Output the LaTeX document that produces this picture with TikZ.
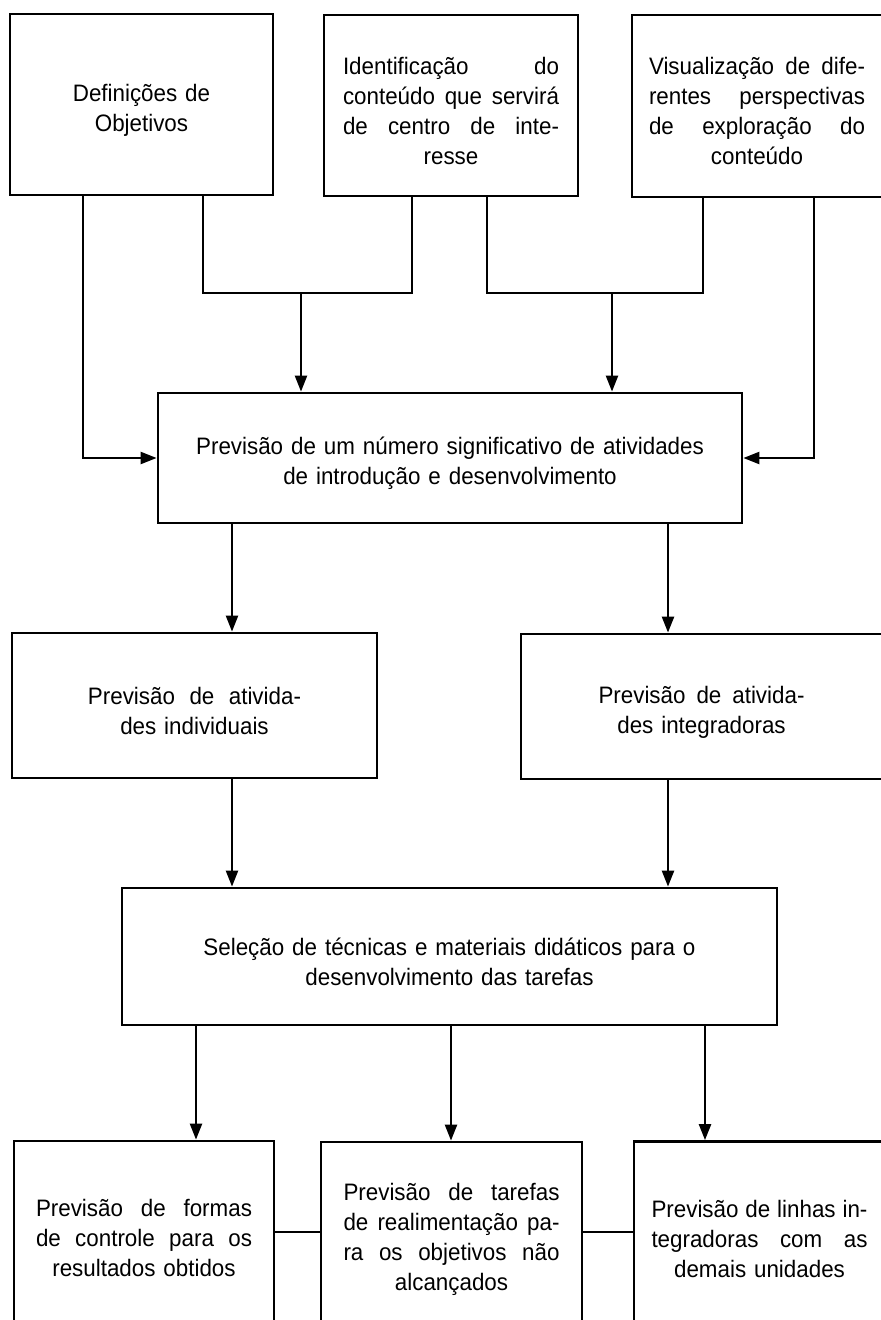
\documentclass[tikz,border=0pt]{standalone}
\usepackage{fontspec}
\setmainfont{Liberation Sans}[FakeStretch=0.94]
\usetikzlibrary{positioning,arrows.meta}
\newcommand{\jline}[2][108pt]{\leavevmode\hbox to #1{#2}}
\tikzset{
  etapa/.style={draw, line width=1.4pt, inner sep=0pt, align=center,
    font=\fontsize{11.9pt}{15pt}\selectfont,
    execute at begin node={\rule{0pt}{14pt}}},
  seta/.style={line width=1.2pt, -{Triangle[length=8pt,width=6pt]}},
  liga/.style={line width=1.2pt}
}
\begin{document}
\begin{tikzpicture}[x=0.5pt,y=-0.5pt]
\useasboundingbox (0,0) rectangle (880,1320);

\node[etapa, minimum width=131.5pt, minimum height=90.5pt, text width=120pt] (obj) at (141.5,104.5) {Definições de\\Objetivos};
\node[etapa, minimum width=127pt, minimum height=90.5pt, text width=108pt] (cont) at (451,105.5)
  {\jline{Identificação\hfill do}\\\jline{conteúdo\hfill que\hfill servirá}\\\jline{de\hfill centro\hfill de\hfill inte-}\\resse};
\node[etapa, minimum width=125pt, minimum height=91pt, text width=108pt] (visu) at (757,106)
  {\jline{Visualização\hfill de\hfill dife-}\\\jline{rentes\hfill perspectivas}\\\jline{de\hfill exploração\hfill do}\\conteúdo};

\node[etapa, minimum width=292pt, minimum height=65pt, text width=280pt] (prev) at (450,458)
  {Previsão de um número significativo de atividades\\de introdução e desenvolvimento};

\node[etapa, minimum width=182.5pt, minimum height=72.5pt, text width=170pt] (indiv) at (194.5,705.5)
  {\jline[106.5pt]{Previsão\hfill de\hfill ativida-}\\des individuais};
\node[etapa, minimum width=180.5pt, minimum height=72.5pt, text width=170pt] (integ) at (701.5,706.5)
  {\jline[103pt]{Previsão\hfill de\hfill ativida-}\\des integradoras};

\node[etapa, minimum width=327.5pt, minimum height=68.5pt, text width=310pt] (sel) at (449.5,956.5)
  {Seleção de técnicas e materiais didáticos para o\\desenvolvimento das tarefas};

\node[etapa, minimum width=130pt, minimum height=92pt, text width=108pt] (ctrl) at (144,1233)
  {\jline{Previsão\hfill de\hfill formas}\\\jline{de\hfill controle\hfill para\hfill os}\\resultados obtidos};
\node[etapa, minimum width=130.5pt, minimum height=92pt, text width=108pt] (real) at (451.5,1234)
  {\jline{Previsão\hfill de\hfill tarefas}\\\jline{de\hfill realimentação\hfill pa-}\\\jline{ra\hfill os\hfill objetivos\hfill não}\\alcançados};
\node[etapa, minimum width=125.5pt, minimum height=92pt, text width=108pt] (lin) at (759.5,1233.5)
  {\jline{Previsão\hfill de\hfill linhas\hfill in-}\\\jline{tegradoras\hfill com\hfill as}\\demais unidades};

\coordinate (al) at (83,0);
\coordinate (ar) at (203,0);
\coordinate (bl) at (412,0);
\coordinate (br) at (487,0);
\coordinate (cl) at (703,0);
\coordinate (cr) at (814,0);
\coordinate (ab) at (301,293);
\coordinate (bc) at (612,293);
\coordinate (dx) at (232,0);
\coordinate (ex) at (668,0);
\coordinate (gx) at (196,0);
\coordinate (hx) at (451,0);
\coordinate (ix) at (705,0);
\coordinate (gh) at (0,1232);

\draw[liga] (obj.south -| ar) |- (ab) -| (cont.south -| bl);
\draw[liga] (cont.south -| br) |- (bc) -| (visu.south -| cl);
\draw[seta] (ab) -- (ab |- prev.north);
\draw[seta] (bc) -- (bc |- prev.north);
\draw[seta] (obj.south -| al) |- (prev.west);
\draw[seta] (visu.south -| cr) |- (prev.east);

\draw[seta] (prev.south -| dx) -- (indiv.north -| dx);
\draw[seta] (prev.south -| ex) -- (integ.north -| ex);
\draw[seta] (indiv.south -| dx) -- (sel.north -| dx);
\draw[seta] (integ.south -| ex) -- (sel.north -| ex);

\draw[seta] (sel.south -| gx) -- (ctrl.north -| gx);
\draw[seta] (sel.south -| hx) -- (real.north -| hx);
\draw[seta] (sel.south -| ix) -- (lin.north -| ix);
\draw[liga] (ctrl.east |- gh) -- (real.west |- gh);
\draw[liga] (real.east |- gh) -- (lin.west |- gh);

\end{tikzpicture}
\end{document}
